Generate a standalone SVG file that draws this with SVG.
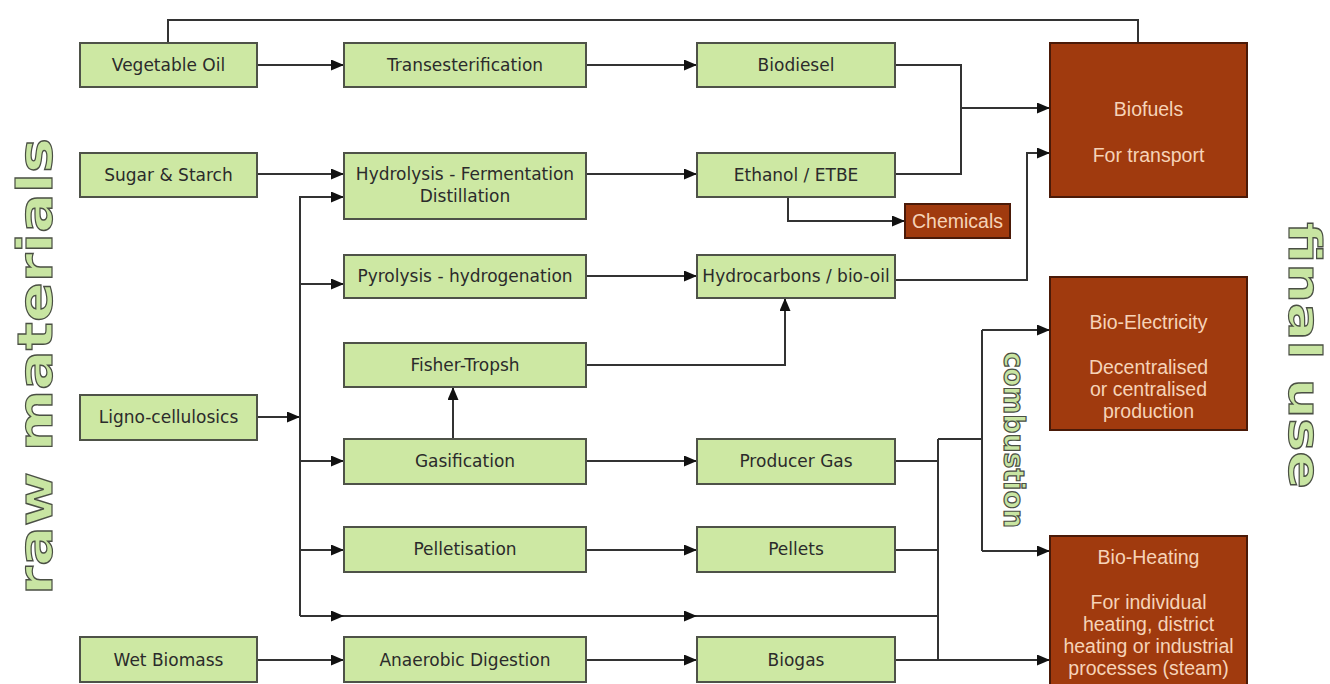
<svg xmlns="http://www.w3.org/2000/svg" width="1330" height="684" viewBox="0 0 1330 684">
  <style>
    .proc rect { fill: #cde8a3; stroke: #4e5248; stroke-width: 2; }
    .proc text { font-family: "DejaVu Sans", Verdana, sans-serif; font-size: 17px; fill: #2b2b2b; text-anchor: middle; }
    .use rect { fill: #a03a0e; stroke: #4a1a08; stroke-width: 2; }
    .use text { font-family: "Liberation Sans", Arial, sans-serif; font-size: 19.5px; fill: #f6d3b8; text-anchor: middle; }
    .wire { fill: none; stroke: #333; stroke-width: 2; }
    .arrow { fill: none; stroke: #333; stroke-width: 2; marker-end: url(#head); }
    .big { font-family: "DejaVu Sans", Verdana, sans-serif; font-weight: bold; fill: #c8e5a2; stroke: #4a4f44; stroke-width: 1.2; }
  </style>
  <defs>
    <marker id="head" markerUnits="userSpaceOnUse" markerWidth="13" markerHeight="11" refX="13" refY="5.5" orient="auto">
      <path d="M0,0 L13,5.5 L0,11 z" fill="#111"/>
    </marker>
  </defs>

  <rect width="1330" height="684" fill="#fff"/>

  <!-- side captions -->
  <text class="big" font-size="48" transform="translate(52,595) rotate(-90)" textLength="457" lengthAdjust="spacingAndGlyphs">raw materials</text>
  <text class="big" font-size="44" transform="translate(1289,222) rotate(90)" textLength="267" lengthAdjust="spacingAndGlyphs">final use</text>
  <text class="big" font-size="28" transform="translate(1004,352) rotate(90)" textLength="176" lengthAdjust="spacingAndGlyphs">combustion</text>

  <g id="connectors">
    <!-- vegetable oil straight to biofuels -->
    <polyline class="wire" points="168,43 168,20 1138,20 1138,43"/>
    <line class="arrow" x1="257" y1="65" x2="344" y2="65"/>
    <line class="arrow" x1="586" y1="65" x2="697" y2="65"/>
    <polyline class="wire" points="895,65 961,65 961,174 895,174"/>
    <line class="arrow" x1="961" y1="108" x2="1050" y2="108"/>
    <line class="arrow" x1="257" y1="174" x2="344" y2="174"/>
    <line class="arrow" x1="586" y1="174" x2="697" y2="174"/>
    <polyline class="arrow" points="788,197 788,221 905,221"/>
    <polyline class="arrow" points="895,280 1027,280 1027,153 1050,153"/>
    <!-- ligno-cellulosics trunk -->
    <line class="arrow" x1="257" y1="417" x2="300" y2="417"/>
    <line class="wire" x1="300" y1="196" x2="300" y2="616"/>
    <line class="arrow" x1="300" y1="197" x2="344" y2="197"/>
    <line class="arrow" x1="300" y1="284" x2="344" y2="284"/>
    <line class="arrow" x1="300" y1="461" x2="344" y2="461"/>
    <line class="arrow" x1="300" y1="550" x2="344" y2="550"/>
    <line class="arrow" x1="300" y1="616" x2="344" y2="616"/>
    <line class="arrow" x1="344" y1="616" x2="697" y2="616"/>
    <line class="wire" x1="697" y1="616" x2="938" y2="616"/>
    <line class="arrow" x1="586" y1="276" x2="697" y2="276"/>
    <line class="arrow" x1="453" y1="439" x2="453" y2="387"/>
    <polyline class="arrow" points="586,365 785,365 785,298"/>
    <line class="arrow" x1="586" y1="461" x2="697" y2="461"/>
    <line class="arrow" x1="586" y1="550" x2="697" y2="550"/>
    <line class="arrow" x1="257" y1="660" x2="344" y2="660"/>
    <line class="arrow" x1="586" y1="660" x2="697" y2="660"/>
    <!-- combustion bus -->
    <line class="wire" x1="895" y1="461" x2="938" y2="461"/>
    <line class="wire" x1="895" y1="550" x2="938" y2="550"/>
    <line class="wire" x1="938" y1="439" x2="938" y2="660"/>
    <polyline class="wire" points="938,439 982,439"/>
    <line class="wire" x1="982" y1="330" x2="982" y2="551"/>
    <line class="arrow" x1="982" y1="330" x2="1050" y2="330"/>
    <line class="arrow" x1="982" y1="551" x2="1050" y2="551"/>
    <line class="arrow" x1="895" y1="660" x2="1050" y2="660"/>
  </g>

  <g id="vegetable-oil" class="proc"><rect x="80" y="43" width="177" height="44"/><text x="168.5" y="71">Vegetable Oil</text></g>
  <g id="sugar-starch" class="proc"><rect x="80" y="153" width="177" height="44"/><text x="168.5" y="181">Sugar &amp; Starch</text></g>
  <g id="ligno-cellulosics" class="proc"><rect x="80" y="395" width="177" height="45"/><text x="168.5" y="423">Ligno-cellulosics</text></g>
  <g id="wet-biomass" class="proc"><rect x="80" y="637" width="177" height="45"/><text x="168.5" y="666">Wet Biomass</text></g>

  <g id="transesterification" class="proc"><rect x="344" y="43" width="242" height="44"/><text x="465" y="71">Transesterification</text></g>
  <g id="hydrolysis" class="proc"><rect x="344" y="153" width="242" height="66"/><text x="465" y="180">Hydrolysis - Fermentation</text><text x="465" y="202">Distillation</text></g>
  <g id="pyrolysis" class="proc"><rect x="344" y="255" width="242" height="43"/><text x="465" y="282">Pyrolysis - hydrogenation</text></g>
  <g id="fisher-tropsh" class="proc"><rect x="344" y="343" width="242" height="44"/><text x="465" y="371">Fisher-Tropsh</text></g>
  <g id="gasification" class="proc"><rect x="344" y="439" width="242" height="45"/><text x="465" y="467">Gasification</text></g>
  <g id="pelletisation" class="proc"><rect x="344" y="527" width="242" height="45"/><text x="465" y="555">Pelletisation</text></g>
  <g id="anaerobic-digestion" class="proc"><rect x="344" y="637" width="242" height="45"/><text x="465" y="666">Anaerobic Digestion</text></g>

  <g id="biodiesel" class="proc"><rect x="697" y="43" width="198" height="44"/><text x="796" y="71">Biodiesel</text></g>
  <g id="ethanol" class="proc"><rect x="697" y="153" width="198" height="44"/><text x="796" y="181">Ethanol / ETBE</text></g>
  <g id="hydrocarbons" class="proc"><rect x="697" y="255" width="198" height="43"/><text x="796" y="282">Hydrocarbons / bio-oil</text></g>
  <g id="producer-gas" class="proc"><rect x="697" y="439" width="198" height="45"/><text x="796" y="467">Producer Gas</text></g>
  <g id="pellets" class="proc"><rect x="697" y="527" width="198" height="45"/><text x="796" y="555">Pellets</text></g>
  <g id="biogas" class="proc"><rect x="697" y="637" width="198" height="45"/><text x="796" y="666">Biogas</text></g>

  <g id="chemicals" class="use"><rect x="905" y="204" width="105" height="34"/><text x="957.5" y="228">Chemicals</text></g>
  <g id="biofuels" class="use"><rect x="1050" y="43" width="197" height="154"/><text x="1148.5" y="116">Biofuels</text><text x="1148.5" y="162">For transport</text></g>
  <g id="bio-electricity" class="use"><rect x="1050" y="277" width="197" height="153"/><text x="1148.5" y="329">Bio-Electricity</text><text x="1148.5" y="374">Decentralised</text><text x="1148.5" y="396">or centralised</text><text x="1148.5" y="418">production</text></g>
  <g id="bio-heating" class="use"><rect x="1050" y="536" width="197" height="156"/><text x="1148.5" y="564">Bio-Heating</text><text x="1148.5" y="609">For individual</text><text x="1148.5" y="631">heating, district</text><text x="1148.5" y="653">heating or industrial</text><text x="1148.5" y="675">processes (steam)</text></g>
</svg>
